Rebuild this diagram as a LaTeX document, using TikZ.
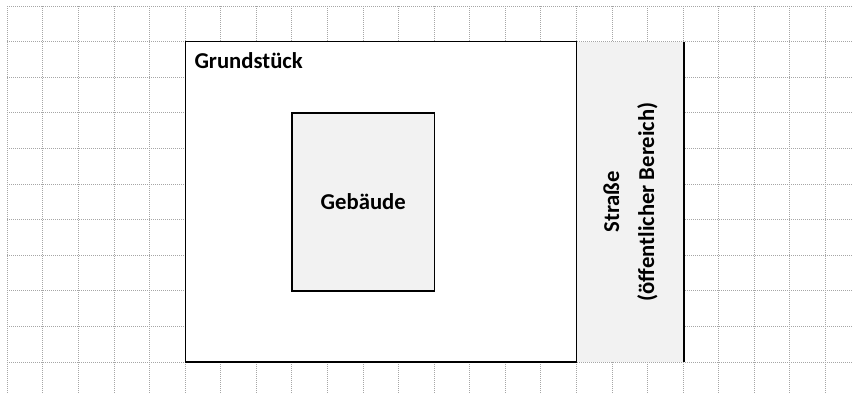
\documentclass[tikz,border=0pt]{standalone}
\usepackage{fontspec}
\setmainfont{Carlito}
\definecolor{boxfill}{HTML}{F2F2F2}
\definecolor{gridc}{HTML}{A6A6A6}
\tikzset{
  gridline/.style={draw=gridc, line width=0.8pt, dash pattern=on 1pt off 1pt},
  area/.style={draw=black, line width=1.6pt, inner sep=0pt, outer sep=0pt},
  lbl/.style={font=\bfseries\fontsize{22.7}{35}\selectfont, inner sep=0pt, text=black},
}
\begin{document}
\begin{tikzpicture}[x=1pt,y=-1pt]
\useasboundingbox (0,0) rectangle (853,394);
% grid
\foreach \k in {0,...,23} {
  \draw[gridline] ({7.3+35.57*\k},6) -- ({7.3+35.57*\k},394);
}
\foreach \j in {0,...,10} {
  \draw[gridline] (7.3,{6+35.6*\j}) -- (853,{6+35.6*\j});
}
% Grundstück
\node[area, fill=white, anchor=north west, minimum width=391.4pt, minimum height=320.6pt] (grund) at (185.3,41.6) {};
\node[lbl, anchor=base west] (grundlbl) at (194.3,68.7) {Grundstück};
% Straße
\node[fill=boxfill, inner sep=0pt, outer sep=0pt, anchor=north west, minimum width=107pt, minimum height=320.6pt] (road) at (576.9,41.6) {};
\draw[gridline] (road.north west) -- (road.north east);
\draw[gridline] (road.south west) -- (road.south east);
\draw[black, line width=1.6pt] (road.north east) -- (road.south east);
\node[lbl, rotate=90, align=center] (roadlbl) at (road.center) {Straße\\(öffentlicher Bereich)};
% Gebäude
\node[area, fill=boxfill, anchor=north west, minimum width=142.3pt, minimum height=177.5pt] (geb) at (292.1,113.2) {};
\node[lbl] (geblbl) at (geb.center) {Gebäude};
\end{tikzpicture}
\end{document}
